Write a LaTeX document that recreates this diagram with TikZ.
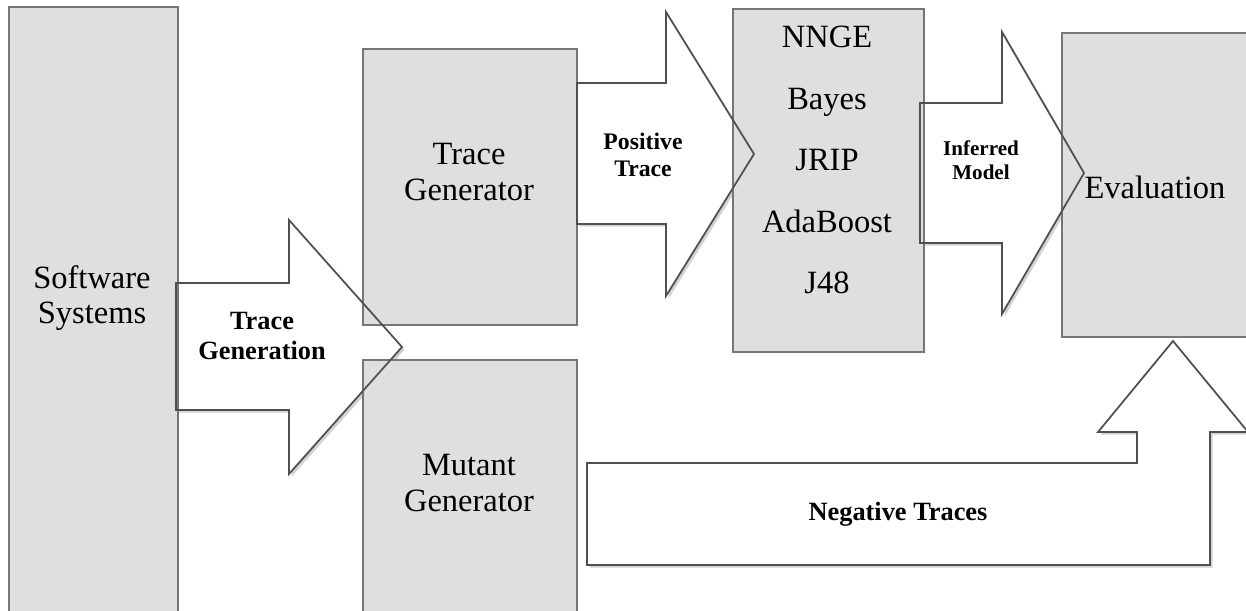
\documentclass[tikz,border=0pt]{standalone}
\usepackage{fontspec}
\setmainfont{Liberation Serif}
\usetikzlibrary{shadows}
\definecolor{boxfill}{HTML}{DFDFDF}
\definecolor{boxline}{HTML}{767676}
\definecolor{arrline}{HTML}{505050}

\begin{document}
\begin{tikzpicture}[x=0.02cm,y=-0.02cm,
	box/.style={draw=boxline,fill=boxfill,line width=1pt,inner sep=0pt,anchor=north west},
	blk/.style={draw=arrline,line width=1pt,line join=miter},
	blkfill/.style={fill=white,drop shadow={shadow xshift=1.5pt,shadow yshift=-1.5pt,opacity=.35}},
	lab/.style={font=\fontsize{18.5}{20}\selectfont,align=center},
	tag/.style={font=\bfseries\fontsize{15}{17}\selectfont,align=center}]
	
	\clip (0,0) rectangle (1246,611);
	
	% block arrows, filled first
	\path[blkfill] (176,283) -- (289,283) -- (289,220) -- (402,347) -- (289,474) -- (289,410) -- (176,410) -- cycle;
	\path[blkfill] (577,83) -- (666,83) -- (666,12) -- (754,154) -- (666,296) -- (666,224) -- (577,224) -- cycle;
	\path[blkfill] (920,103) -- (1002,103) -- (1002,32) -- (1084,173) -- (1002,314) -- (1002,243) -- (920,243) -- cycle;
	\path[blkfill] (587,463) -- (1137,463) -- (1137,432) -- (1098,432) -- (1173,341) -- (1248,432) -- (1210,432) -- (1210,565) -- (587,565) -- cycle;
	
	% boxes
	\node[box,minimum width=3.38cm,minimum height=12.4cm] (soft) at (8,6) {};
	\node[box,minimum width=4.28cm,minimum height=5.52cm] (tgen) at (362,48) {};
	\node[box,minimum width=4.28cm,minimum height=5.2cm] (mgen) at (362,359) {};
	\node[box,minimum width=3.82cm,minimum height=6.86cm] (algs) at (732,8) {};
	\node[box,minimum width=4.0cm,minimum height=6.08cm] (eval) at (1061,32) {};
	
	% block arrow outlines on top
	\draw[blk] (176,283) -- (289,283) -- (289,220) -- (402,347) -- (289,474) -- (289,410) -- (176,410) -- cycle;
	\draw[blk] (577,83) -- (666,83) -- (666,12) -- (754,154) -- (666,296) -- (666,224) -- (577,224) -- cycle;
	\draw[blk] (920,103) -- (1002,103) -- (1002,32) -- (1084,173) -- (1002,314) -- (1002,243) -- (920,243) -- cycle;
	\draw[blk] (587,463) -- (1137,463) -- (1137,432) -- (1098,432) -- (1173,341) -- (1248,432) -- (1210,432) -- (1210,565) -- (587,565) -- cycle;
	
	\node[lab] (softtxt) at (92,298) {Software\\Systems};
	\node[lab] (tgentxt) at (469,172) {Trace\\Generator};
	\node[lab] (mgentxt) at (469,483) {Mutant\\Generator};
	\node[lab,font=\fontsize{18.5}{35}\selectfont] (algstxt) at (827,160) {NNGE\\Bayes\\JRIP\\AdaBoost\\J48};
	\node[lab] (evaltxt) at (1155,187) {Evaluation};
	
	\node[tag] (gen) at (262,336) {Trace\\Generation};
	\node[tag,font=\bfseries\fontsize{13.5}{15}\selectfont] (pos) at (643,155) {Positive\\Trace};
	\node[tag,font=\bfseries\fontsize{12}{14}\selectfont] (inf) at (981,160) {Inferred\\Model};
	\node[tag] (neg) at (898,514) {Negative Traces};
\end{tikzpicture}
\end{document}
